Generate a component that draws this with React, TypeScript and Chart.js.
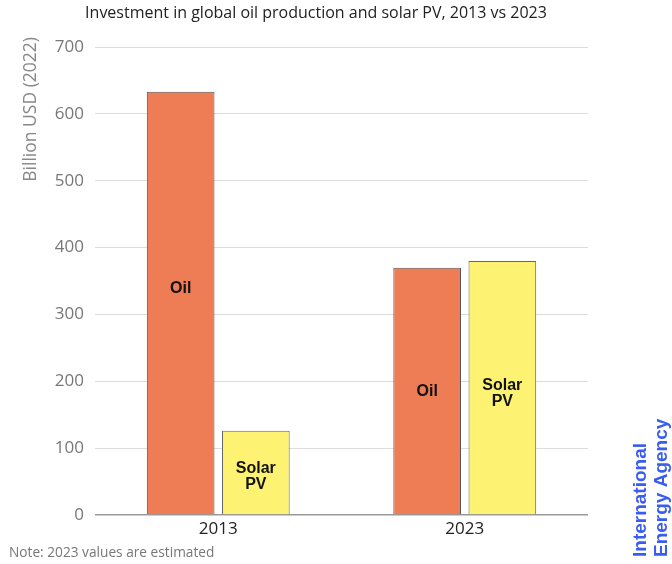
import React, { useEffect, useRef } from "react";
import { Chart, registerables } from "chart.js";

Chart.register(...registerables);

const TITLE = "Investment in global oil production and solar PV, 2013 vs 2023";
const NOTE = "Note: 2023 values are estimated";
const Y_TITLE = "Billion USD (2022)";
const categories = ["2013", "2023"];
const oilValues = [633, 370];
const solarValues = [126, 380];
// value at which each in-bar label is centred
const oilLabelAt = [338, 185];
const solarLabelAt = [58, 182];
const oilLabel = ["Oil"];
const solarLabel = ["Solar", "PV"];
const FONT = "'Open Sans', 'Noto Sans', sans-serif";

const decorPlugin = {
  id: "decor",
  afterDatasetsDraw(chart: any) {
    const ctx = chart.ctx;
    ctx.save();
    const sets = [oilLabel, solarLabel];
    const at = [oilLabelAt, solarLabelAt];
    const yScale = chart.scales.y;
    chart.data.datasets.forEach((ds: any, di: number) => {
      const meta = chart.getDatasetMeta(di);
      meta.data.forEach((bar: any, i: number) => {
        const lines = sets[di];
        const cy = yScale.getPixelForValue(at[di][i]);
        ctx.font = `bold 16px 'Liberation Sans', Arial, sans-serif`;
        ctx.fillStyle = "#111";
        ctx.textAlign = "center";
        ctx.textBaseline = "middle";
        const lh = 16;
        lines.forEach((l: string, k: number) => {
          ctx.fillText(l, bar.x, cy + (k - (lines.length - 1) / 2) * lh);
        });
      });
    });
    ctx.restore();
  },
  afterDraw(chart: any) {
    const ctx = chart.ctx;
    ctx.save();
    ctx.fillStyle = "#222";
    ctx.font = `16px ${FONT}`;
    ctx.textAlign = "center";
    ctx.textBaseline = "middle";
    ctx.fillText(TITLE, 316, 13);

    ctx.fillStyle = "#777";
    ctx.font = `13.7px ${FONT}`;
    ctx.textAlign = "left";
    ctx.fillText(NOTE, 9, 553);

    ctx.save();
    ctx.translate(31, 37);
    ctx.rotate(-Math.PI / 2);
    ctx.textAlign = "right";
    ctx.textBaseline = "middle";
    ctx.fillStyle = "#888";
    ctx.font = `17.5px ${FONT}`;
    ctx.fillText(Y_TITLE, 0, 0);
    ctx.restore();

    ctx.save();
    ctx.translate(641, 557);
    ctx.rotate(-Math.PI / 2);
    ctx.textAlign = "left";
    ctx.textBaseline = "middle";
    ctx.fillStyle = "#3a5cf0";
    ctx.font = `bold 19px 'Liberation Sans', Arial, sans-serif`;
    ctx.fillText("International", 0, 0);
    ctx.fillText("Energy Agency", 0, 21);
    ctx.restore();
    ctx.restore();
  },
};

export default function App() {
  const ref = useRef<HTMLCanvasElement>(null);
  useEffect(() => {
    const chart = new Chart(ref.current!, {
      type: "bar",
      data: {
        labels: categories,
        datasets: [
          {
            label: "Oil",
            data: oilValues,
            backgroundColor: "#ee7c55",
            borderColor: "#555",
            borderWidth: 1,
            barPercentage: 0.9,
            categoryPercentage: 0.61,
          },
          {
            label: "Solar PV",
            data: solarValues,
            backgroundColor: "#fdf272",
            borderColor: "#666",
            borderWidth: 1,
            barPercentage: 0.9,
            categoryPercentage: 0.61,
          },
        ],
      },
      options: {
        responsive: false,
        animation: false,
        layout: { padding: { top: 47, right: 84, bottom: 0, left: 0 } },
        plugins: {
          legend: { display: false },
          tooltip: { enabled: false },
          title: { display: false },
        },
        scales: {
          x: {
            grid: { display: false, drawTicks: false },
            border: { display: false },
            ticks: { color: "#222", font: { family: FONT, size: 17 }, padding: 4 },
            afterFit: (s: any) => {
              s.height = 49;
            },
          },
          y: {
            min: 0,
            max: 700,
            ticks: { stepSize: 100, color: "#777", font: { family: FONT, size: 17 }, padding: 11 },
            grid: {
              drawTicks: false,
              color: (c: any) => (c.tick && c.tick.value === 0 ? "#999" : "#dddddd"),
              lineWidth: (c: any) => (c.tick && c.tick.value === 0 ? 1.5 : 1),
            },
            border: { display: false },
            afterFit: (s: any) => {
              s.width = 95;
            },
          },
        },
      },
      plugins: [decorPlugin],
    });
    return () => chart.destroy();
  }, []);
  return (
    <div style={{ position: "fixed", left: 0, top: 0, width: 672, height: 564, background: "#fff" }}>
      <canvas ref={ref} width={672} height={564} />
    </div>
  );
}
